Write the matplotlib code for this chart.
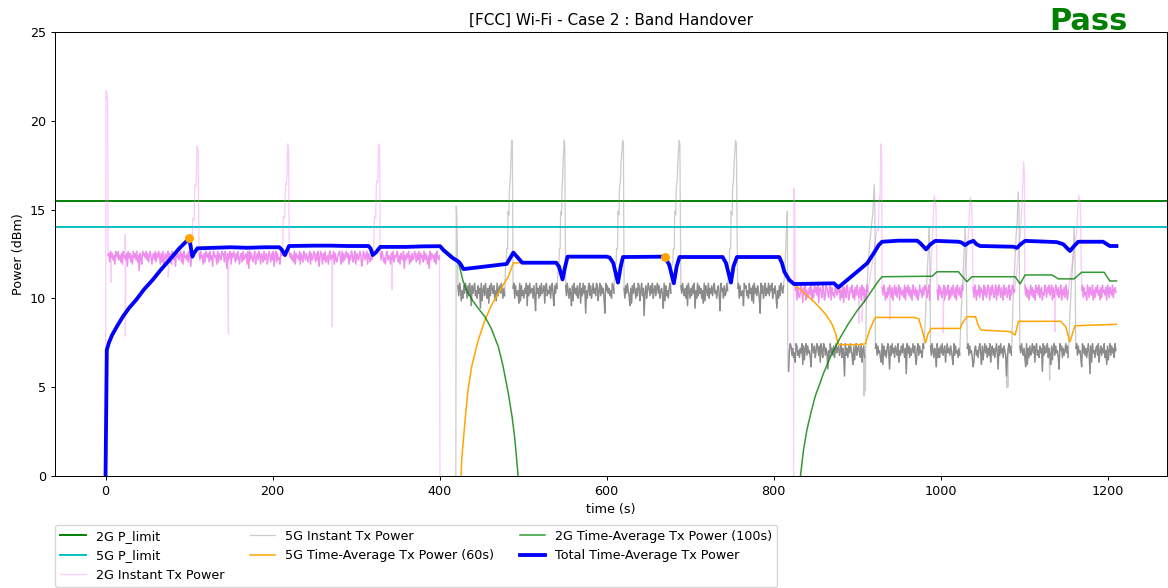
import numpy as np
import matplotlib
matplotlib.use("Agg")
import matplotlib.pyplot as plt

# ---- data ----
P_LIMIT_2G = 15.5
P_LIMIT_5G = 14.0

# noise bands: (x_start, x_end, top value, step, hex string of dip depth)
BAND_STEP_2G = 0.12
BAND_STEP_2G_B = 0.14
BAND_STEP_5G = 0.14
BAND_STEP_5G_B = 0.13

inst_2g_blocks = [
    (3, 103, 12.65, BAND_STEP_2G,
     "2150314260" "1304251603" "2417031526" "0314052913" "6021304152"
     "0362140513" "0261507314" "2051360241" "7031420516" "0324150273"),
    (112, 212, 12.65, BAND_STEP_2G,
     "1403261502" "3150427013" "2605134021" "5038142061" "3025140362"
     "1504231608" "0413520631" "4026135042" "1630251407" "2051436021"),
    (220, 321, 12.65, BAND_STEP_2G,
     "0314250613" "2406135024" "1352061430" "2514073026" "1405326104"
     "2306145210" "3605142031" "6240153062" "1430275014" "2061352410"),
    (329, 400, 12.65, BAND_STEP_2G,
     "1402536104" "2361405231" "0526134082" "4130625143" "0251406132"
     "5041362804" "1325160342"),
    (826, 913, 10.75, BAND_STEP_2G_B,
     "2061453027" "1406253140" "6250314072" "1350264013" "5206143502"
     "4130625071" "3502641305" "2614035216" "04172503"),
    (930, 987, 10.75, BAND_STEP_2G_B,
     "1402635140" "2516304152" "0613425061" "3041526034" "1526403251"
     "40215306"),
    (996, 1027, 10.75, BAND_STEP_2G_B,
     "2604135206" "1430625140" "3516024153" "02"),
    (1039, 1089, 10.75, BAND_STEP_2G_B,
     "1503624051" "3260415302" "6140253061" "4025136042" "1530624013" "2"),
    (1101, 1153, 10.75, BAND_STEP_2G_B,
     "0415263041" "5260314052" "1634025130" "4206153024" "1530624150" "362"),
    (1169, 1210, 10.75, BAND_STEP_2G_B,
     "2051436025" "1340625130" "4261503241" "6025134052" "13"),
]

inst_2g_events = [
    (0, 0.0), (0.5, 21.7), (1.5, 21.6), (2.5, 21.1),
    (6.8, 10.9), (23.4, 13.6), (23.8, 7.9), (75.2, 11.2),
    (104.5, 14.5), (106, 14.4), (107, 16.4), (108.5, 16.3), (109.5, 18.6), (111, 18.3),
    (147.2, 8.0),
    (213, 14.6), (214.5, 14.5), (215.5, 16.5), (217, 16.4), (218, 18.7), (219.3, 18.4),
    (271.6, 8.4),
    (322, 14.6), (323.5, 14.5), (324.5, 16.6), (326, 16.5), (327, 18.7), (328.3, 18.4),
    (343.2, 10.5),
    (400.5, 0.0), (600, np.nan), (824, 0.0), (824.5, 16.2), (825.3, 15.4),
    (902.3, 8.6), (906.1, 8.7),
    (924, 13.9), (925.5, 13.8), (926.5, 15.7), (927.5, 15.6), (928.5, 18.7), (929.5, 17.9),
    (939.2, 8.8),
    (990.5, 13.7), (992.5, 15.8), (994.5, 15.2),
    (1003.3, 8.05),
    (1033.5, 13.6), (1035.5, 15.7), (1037.5, 15.2),
    (1096, 13.8), (1098, 15.7), (1099.5, 17.7), (1100.5, 17.0),
    (1137.2, 8.13),
    (1163, 13.7), (1165.5, 15.8), (1167.5, 15.3),
]

inst_5g_blocks = [
    (422, 478, 10.85, BAND_STEP_5G,
     "1502736140" "2615039142" "0536142a07" "3150462815" "0241637052" "1403625"),
    (488, 541, 10.85, BAND_STEP_5G,
     "2061453807" "1536240915" "0432615b04" "2615043182" "0534162059" "1402"),
    (551, 609, 10.85, BAND_STEP_5G,
     "1503624917" "0425163082" "5041c36205" "1630425017" "3051426c03" "142536014"),
    (621, 677, 10.85, BAND_STEP_5G,
     "2614035928" "1403625017" "3052d41630" "2514063152" "0416325a07" "1536204"),
    (689, 745, 10.85, BAND_STEP_5G,
     "1403526190" "3625140a36" "0514263807" "1350624152" "0436215b03" "2615403"),
    (757, 812, 10.85, BAND_STEP_5G,
     "2061543902" "1536042718" "0425136c04" "1630524051" "3062415a36" "150241"),
    (818, 909, 7.45, BAND_STEP_5G_B,
     "c301526480" "1536240917" "2051436a02" "4163025180" "3601524b36"
     "0425163042" "1530624e05" "2614035917" "3052146083" "16"),
    (922, 980, 7.45, BAND_STEP_5G_B,
     "2051436809" "1536204b15" "0426135083" "5140362d04" "1625304169" "205143602"),
    (988, 1023, 7.45, BAND_STEP_5G_B,
     "1503624a06" "2614053183" "0425136905" "143625"),
    (1032, 1085, 7.45, BAND_STEP_5G_B,
     "2051436a82" "1536204917" "3041625083" "1526304b15" "0426135e62" "0415"),
    (1095, 1153, 7.45, BAND_STEP_5G_B,
     "1403526a09" "2615304182" "0536142c05" "1430625917" "2051436b03" "162530416"),
    (1162, 1210, 7.45, BAND_STEP_5G_B,
     "2051436a04" "1526304d18" "0436215083" "1524063917" "305142603"),
]

inst_5g_events = [
    (419.5, 0.0), (420, 15.2), (420.8, 14.6),
    (479, 11.8), (480, 12.0), (480.5, 12.8), (481.5, 12.8), (482, 14.9), (483.2, 14.7),
    (483.6, 16.1), (484.8, 16.8), (485.3, 17.6), (486.5, 18.9), (487.2, 18.7),
    (542, 11.8), (543, 12.0), (543.5, 12.8), (544.5, 12.8), (545, 14.9), (546.2, 14.7),
    (546.6, 16.1), (547.5, 16.8), (548.0, 17.6), (549.2, 18.9), (550, 18.7),
    (610, 11.8), (611.5, 12.0), (612, 12.8), (613.2, 12.8), (613.6, 14.9), (615, 14.7),
    (615.4, 16.1), (616.8, 16.8), (617.3, 17.6), (619.3, 18.9), (620.2, 18.7),
    (678, 11.8), (679.5, 12.0), (680, 12.8), (681.2, 12.8), (681.6, 14.9), (683, 14.7),
    (683.4, 16.1), (684.8, 16.8), (685.3, 17.6), (687, 18.9), (687.8, 18.7),
    (746, 11.8), (747, 12.0), (747.5, 12.8), (748.7, 12.8), (749.1, 14.9), (750.5, 14.7),
    (750.9, 16.1), (752.3, 16.8), (752.8, 17.6), (754.5, 18.9), (755.5, 18.7),
    (813.5, 11.5), (814.5, 12.8), (815.5, 14.0), (816.5, 14.9), (817.2, 6.2),
    (908.5, 4.5),
    (910, 4.8), (911, 9.5), (913, 11.6), (915, 13.0), (917, 14.0), (919, 14.8),
    (920.5, 16.4), (921.3, 15.5),
    (982, 9.0), (984, 11.4), (985.5, 12.8), (986.5, 13.95), (987.3, 12.0),
    (1025, 9.5), (1027, 11.4), (1028.5, 12.8), (1029.5, 13.95), (1030.5, 12.5),
    (1079.2, 5.0), (1080.6, 5.0),
    (1087, 10.0), (1089, 12.0), (1090.5, 13.5), (1092, 14.5), (1093, 16.0), (1094, 15.0),
    (1130.7, 5.4),
    (1155, 9.2), (1157, 11.0), (1158.5, 12.0), (1160, 13.95), (1161, 12.5),
]

avg_5g_t = [424.5, 426.5, 430.6, 434, 438.5, 446, 454.4, 462, 470.4, 476, 482.4, 486, 488.4, 499,
            np.nan,
            824.6, 836, 848.4, 857, 864.5, 870, 874.4, 876.4, 878.4, 905, 910, 915, 921,
            922.2, 968, 974, 978, 982, 985, 988.7, 1023.6, 1026, 1031.6, 1042, 1045, 1048.4,
            1083.4, 1089.4, 1093.3, 1144, 1150, 1155, 1161, 1210.7]
avg_5g_v = [-2.0, 0.9, 3.15, 4.8, 6.16, 7.6, 8.78, 9.6, 10.28, 10.75, 11.22, 11.7, 12.0, 12.0,
            np.nan,
            10.81, 10.35, 9.81, 9.4, 8.97, 8.55, 8.03, 7.6, 7.4, 7.4, 7.45, 8.2, 8.85,
            8.93, 8.93, 8.85, 8.2, 7.5, 8.0, 8.31, 8.31, 8.6, 8.97, 8.97, 8.5, 8.22,
            8.13, 7.94, 8.71, 8.71, 8.4, 7.56, 8.46, 8.54]

avg_2g_t = [400.6, 410, 418, 422.7, 425, 428, 432, 440, 447, 454.4, 462, 470.4, 476, 482.4, 487,
            490.3, 495,
            np.nan,
            831, 836, 840, 845, 850, 860, 870, 880, 890, 900, 910, 920,
            926, 930, 989.9, 995.8, 1021.5, 1025, 1031.6, 1037.6, 1089.4, 1095.3, 1101.3,
            1133.6, 1141, 1160, 1169, 1196, 1202.7, 1210.7]
avg_2g_v = [12.94, 12.6, 12.25, 11.95, 11.6, 11.0, 10.5, 9.85, 9.4, 8.97, 8.3, 7.28, 6.2, 4.65,
            3.3, 2.03, -0.5,
            np.nan,
            -0.5, 1.5, 2.6, 3.6, 4.5, 5.8, 6.9, 7.8, 8.6, 9.3, 9.9, 10.6,
            11.0, 11.22, 11.25, 11.5, 11.5, 11.3, 10.94, 11.22, 11.22, 10.82, 11.32,
            11.32, 11.1, 11.1, 11.47, 11.47, 10.98, 10.98]

total_t = [0, 1.5, 4, 8, 14, 20.7, 28, 36.5, 46, 56.4, 66, 76.4, 88, 100.3,
           104, 106, 110, 130, 150, 170, 190, 208, 211, 214.9, 219.7, 250, 270, 290, 315,
           317.5, 320, 324, 329, 360, 380, 400.6, 405, 415, 422.7, 425, 428.7, 480.4, 488.4,
           499, 539.7, 543, 547.3, 550, 553.3, 600, 603.7, 608, 613.7, 617, 619.7, 669.5,
           675, 680.6, 684, 687.4, 739, 743, 749, 752, 756.2, 806.8, 810, 813, 818.7, 824.6,
           850, 872.4, 877.6, 895, 912.2, 920, 926, 930, 950, 972, 976, 982.7, 988, 993.8,
           1021.5, 1025, 1029.4, 1034, 1039.5, 1043, 1047.3, 1087.4, 1091.3, 1096, 1101.3,
           1139, 1147, 1155, 1160, 1165, 1194.7, 1202.7, 1210.7]
total_v = [0, 7.1, 7.5, 7.95, 8.45, 8.97, 9.45, 9.91, 10.5, 11.04, 11.6, 12.16, 12.8, 13.38,
           12.35, 12.55, 12.82, 12.85, 12.88, 12.85, 12.88, 12.88, 12.75, 12.44, 12.95, 12.97,
           12.97, 12.95, 12.95, 12.8, 12.44, 12.6, 12.9, 12.9, 12.93, 12.94, 12.7, 12.3, 12.07,
           11.95, 11.65, 11.94, 12.58, 12.01, 12.01, 11.8, 11.07, 11.7, 12.35, 12.35, 12.3,
           12.0, 10.89, 11.8, 12.33, 12.35, 11.9, 10.85, 11.8, 12.33, 12.33, 12.0, 10.89, 11.8,
           12.33, 12.33, 12.0, 11.5, 11.04, 10.81, 10.83, 10.85, 10.62, 11.3, 11.98, 12.54,
           13.0, 13.19, 13.25, 13.25, 13.1, 12.76, 13.05, 13.24, 13.19, 13.15, 13.0, 13.15,
           13.24, 13.05, 12.95, 12.91, 12.84, 13.05, 13.24, 13.17, 13.05, 12.67, 12.95, 13.19,
           13.19, 12.95, 12.95]

marker_t = [100.3, 669.5]
marker_v = [13.38, 12.35]


def block_points(block):
    x0, x1, top, step, digits = block
    xs = np.linspace(x0, x1, len(digits))
    ys = np.array([top - step * int(c, 16) for c in digits])
    return xs, ys


def build(blocks, events):
    xs, ys = [], []
    for b in blocks:
        bx, by = block_points(b)
        xs.extend(bx)
        ys.extend(by)
    for x, y in events:
        xs.append(x)
        ys.append(y)
    xs = np.asarray(xs, dtype=float)
    ys = np.asarray(ys, dtype=float)
    order = np.argsort(xs, kind="stable")
    return xs[order], ys[order]


DPI = 91.5
fig = plt.figure(figsize=(1168 / DPI, 588 / DPI), dpi=DPI)
ax = fig.add_axes([55 / 1168, 1 - 476 / 588, 1112 / 1168, 444 / 588])

x2, y2 = build(inst_2g_blocks, inst_2g_events)
x5, y5 = build(inst_5g_blocks, inst_5g_events)

ax.axhline(P_LIMIT_2G, color="green", lw=1.5, label="2G P_limit")
ax.axhline(P_LIMIT_5G, color="c", lw=1.5, label="5G P_limit")
ax.plot(x2, y2, color="violet", lw=1, alpha=0.4, label="2G Instant Tx Power")
ax.plot(x5, y5, color="grey", lw=1, alpha=0.4, label="5G Instant Tx Power")
# the real log is sampled much faster, so the noisy bands look solid
for b in inst_2g_blocks:
    bx, by = block_points(b)
    ax.plot(bx, by, color="violet", lw=1.1, alpha=0.85)
for b in inst_5g_blocks:
    bx, by = block_points(b)
    ax.plot(bx, by, color="grey", lw=1.1, alpha=0.85)
ax.plot(avg_5g_t, avg_5g_v, color="orange", lw=1.2, label="5G Time-Average Tx Power (60s)")
ax.plot(avg_2g_t, avg_2g_v, color="green", lw=1.2, alpha=0.8,
        label="2G Time-Average Tx Power (100s)")
ax.plot(total_t, total_v, color="blue", lw=3, label="Total Time-Average Tx Power")
ax.plot(marker_t, marker_v, "o", color="orange", ms=6, zorder=5)

ax.set_ylim(0, 25)
ax.set_xlabel("time (s)")
ax.set_ylabel("Power (dBm)")
ax.set_title("[FCC] Wi-Fi - Case 2 : Band Handover")
ax.text(0.929, 1.005, "Pass", transform=ax.transAxes, ha="center", va="baseline",
        fontsize=24, fontweight="bold", color="green")
ax.legend(loc="upper left", bbox_to_anchor=(0, -0.11), ncol=3, borderaxespad=0)

fig.savefig("out.png", dpi=DPI)
